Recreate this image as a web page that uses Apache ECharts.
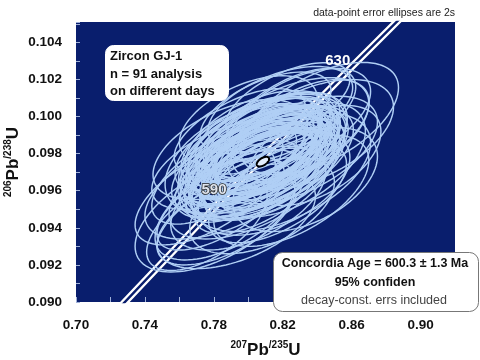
<!DOCTYPE html>
<html><head><meta charset="utf-8">
<script src="https://cdn.jsdelivr.net/npm/echarts@6/dist/echarts.min.js"></script>
<style>html,body{margin:0;padding:0;background:#fff}#c{width:480px;height:360px}</style>
</head><body><div id="c"></div>
<script>
// Tick labels
const xTickLabels = ['0.70','0.74','0.78','0.82','0.86','0.90'];
const yTickLabels = ['0.090','0.092','0.094','0.096','0.098','0.100','0.102','0.104'];

// Concordia curve points (age in Ma, 207Pb/235U, 206Pb/238U)
const concAge = [550, 590, 600, 610, 630, 650];
const concX = [0.718871, 0.787937, 0.805630, 0.823501, 0.859777, 0.896770];
const concY = [0.089066, 0.095843, 0.097544, 0.099248, 0.102664, 0.106090];
const ageLabels = ['590', '630'];
const ageLabelX = [0.787937, 0.859777];
const ageLabelY = [0.095843, 0.102664];

// Data-point error ellipses (2s): centre, half-widths, error correlation
const ellX = [0.8070,0.8100,0.8040,0.8130,0.8010,0.8090,0.8150,0.8060,0.8110,0.7990,
              0.8080,0.8120,0.8030,0.8170,0.8050,0.8095,0.8140,0.8000,0.8075,0.8105,
              0.8020,0.8160,0.8065,0.8115,0.8045,0.8085,0.8135,0.7980,0.8055,0.8125,
              0.8035,0.8180,0.8090,0.8010,0.8145,0.8060,0.8100,0.8025,0.8110,0.8070,
              0.8155,0.8040,0.8085,0.8120,0.7995,0.8065,0.8135,0.8050,0.8095,0.8175,
              0.8015,0.8105,0.8080,0.8140,0.8030,
              0.8413,0.8360,0.8244,0.7808,0.7895,0.7750,0.7895,0.7953,0.8302,0.8244,
              0.8186,0.8330,0.8250,0.7870,0.7930,0.7820,0.7860,0.8000,0.8080,0.8170,
              0.8000,0.8100,0.8280,0.7900,0.8200,0.7950,0.8380,0.7840,0.8050,0.8150,
              0.7970,0.8230,0.8300,0.7760,0.8020,0.8190];
const ellY = [0.09780,0.09800,0.09760,0.09820,0.09740,0.09850,0.09760,0.09700,0.09880,0.09790,
              0.09720,0.09740,0.09830,0.09840,0.09800,0.09690,0.09900,0.09700,0.09870,0.09770,
              0.09860,0.09720,0.09810,0.09820,0.09730,0.09760,0.09780,0.09750,0.09900,0.09690,
              0.09790,0.09800,0.09740,0.09820,0.09860,0.09770,0.09710,0.09720,0.09840,0.09830,
              0.09790,0.09680,0.09890,0.09760,0.09820,0.09740,0.09710,0.09850,0.09800,0.09750,
              0.09770,0.09870,0.09700,0.09830,0.09750,
              0.09989,0.09903,0.09768,0.09470,0.09524,0.09578,0.09822,0.09768,0.09930,0.10010,
              0.10040,0.09660,0.09600,0.09450,0.09440,0.09680,0.09740,0.09560,0.09520,0.09590,
              0.09980,0.10020,0.09820,0.09640,0.09900,0.09920,0.09790,0.09530,0.09600,0.09640,
              0.09650,0.10080,0.10000,0.09420,0.09640,0.09700];
const ellSX = [0.0380,0.0420,0.0350,0.0400,0.0360,0.0330,0.0410,0.0390,0.0370,0.0340,
               0.0450,0.0300,0.0380,0.0360,0.0280,0.0420,0.0390,0.0400,0.0440,0.0320,
               0.0410,0.0350,0.0470,0.0310,0.0330,0.0480,0.0370,0.0390,0.0360,0.0380,
               0.0430,0.0400,0.0290,0.0370,0.0430,0.0400,0.0360,0.0450,0.0460,0.0340,
               0.0330,0.0380,0.0390,0.0490,0.0420,0.0310,0.0400,0.0440,0.0350,0.0380,
               0.0460,0.0320,0.0350,0.0360,0.0300,
               0.0459,0.0483,0.0436,0.0465,0.0436,0.0407,0.0448,0.0436,0.0400,0.0380,
               0.0420,0.0420,0.0450,0.0400,0.0460,0.0380,0.0420,0.0450,0.0420,0.0400,
               0.0400,0.0380,0.0470,0.0500,0.0500,0.0380,0.0390,0.0370,0.0360,0.0440,
               0.0330,0.0360,0.0410,0.0350,0.0480,0.0520];
const ellSY = [0.00230,0.00250,0.00210,0.00240,0.00220,0.00200,0.00260,0.00240,0.00220,0.00200,
               0.00280,0.00180,0.00230,0.00220,0.00170,0.00250,0.00230,0.00250,0.00270,0.00190,
               0.00240,0.00220,0.00290,0.00190,0.00210,0.00300,0.00230,0.00230,0.00210,0.00240,
               0.00260,0.00250,0.00180,0.00220,0.00270,0.00260,0.00230,0.00270,0.00280,0.00200,
               0.00210,0.00240,0.00240,0.00300,0.00250,0.00190,0.00260,0.00260,0.00220,0.00240,
               0.00290,0.00200,0.00210,0.00230,0.00190,
               0.00303,0.00297,0.00308,0.00308,0.00297,0.00270,0.00270,0.00297,0.00270,0.00250,
               0.00230,0.00280,0.00300,0.00250,0.00260,0.00260,0.00240,0.00280,0.00260,0.00270,
               0.00240,0.00220,0.00290,0.00300,0.00310,0.00230,0.00270,0.00250,0.00230,0.00280,
               0.00220,0.00210,0.00260,0.00250,0.00300,0.00320];
const ellRho = [0.60,0.55,0.65,0.50,0.62,0.58,0.48,0.66,0.52,0.60,
                0.55,0.70,0.45,0.57,0.63,0.50,0.60,0.58,0.46,0.68,
                0.54,0.62,0.52,0.56,0.70,0.58,0.44,0.60,0.50,0.64,
                0.57,0.53,0.59,0.66,0.49,0.72,0.55,0.61,0.47,0.65,
                0.58,0.52,0.60,0.56,0.50,0.67,0.54,0.58,0.45,0.62,
                0.60,0.55,0.50,0.66,0.58,
                0.55,0.50,0.50,0.55,0.60,0.60,0.50,0.45,0.55,0.60,
                0.50,0.45,0.55,0.60,0.50,0.62,0.55,0.52,0.48,0.58,
                0.50,0.55,0.52,0.58,0.55,0.60,0.48,0.65,0.60,0.50,
                0.62,0.58,0.52,0.60,0.55,0.50];

// Concordia age ellipse
const ageEllX = [0.8085], ageEllY = [0.09757], ageEllSX = [0.0036], ageEllSY = [0.00026], ageEllRho = [0.55];

const NAVY = '#091e6d';
const FONT = '"Liberation Sans", Arial, sans-serif';

function ellipsePoints(api, cx, cy, a, b, r) {
  const s = Math.sqrt(1 - r * r), pts = [];
  for (let k = 0; k < 96; k++) {
    const t = k / 96 * 2 * Math.PI;
    pts.push(api.coord([cx + a * Math.cos(t), cy + b * (r * Math.cos(t) + s * Math.sin(t))]));
  }
  return pts;
}

const chart = echarts.init(document.getElementById('c'), null, {renderer: 'canvas'});
chart.setOption({
  animation: false,
  backgroundColor: '#ffffff',
  grid: {left: 76, right: 25, top: 22, bottom: 58, containLabel: false, outerBoundsMode: 'none',
         show: true, backgroundColor: NAVY, borderWidth: 0},
  xAxis: {
    type: 'value', min: 0.70, max: 0.92, interval: 0.02,
    axisLine: {show: false},
    splitLine: {show: false},
    axisTick: {show: true, inside: true, length: 5, lineStyle: {color: '#9fb0d8', width: 1}},
    axisLabel: {margin: 16, color: '#111', fontFamily: FONT, fontWeight: 'bold', fontSize: 13.5,
      formatter: v => { const s = v.toFixed(2); return xTickLabels.includes(s) ? s : ''; }},
    name: '{s|207}{b|Pb}{s|/235}{b|U}', nameLocation: 'middle', nameGap: 38, nameMoveOverlap: false,
    nameTextStyle: {rich: {
      b: {fontFamily: FONT, fontWeight: 'bold', fontSize: 17, color: '#111', lineHeight: 20},
      s: {fontFamily: FONT, fontWeight: 'bold', fontSize: 10, color: '#111', verticalAlign: 'top', lineHeight: 20}
    }}
  },
  yAxis: {
    type: 'value', min: 0.090, max: 0.1051, interval: 0.001,
    axisLine: {show: false},
    splitLine: {show: false},
    axisTick: {show: true, inside: true, length: 4, lineStyle: {color: '#9fb0d8', width: 1}},
    axisLabel: {margin: 14, color: '#111', fontFamily: FONT, fontWeight: 'bold', fontSize: 13.5,
      formatter: v => { const s = v.toFixed(3); return yTickLabels.includes(s) ? s : ''; }},
    name: '{s|206}{b|Pb}{s|/238}{b|U}', nameLocation: 'middle', nameGap: 53, nameRotate: 90, nameMoveOverlap: false,
    nameTextStyle: {rich: {
      b: {fontFamily: FONT, fontWeight: 'bold', fontSize: 17, color: '#111', lineHeight: 20},
      s: {fontFamily: FONT, fontWeight: 'bold', fontSize: 10, color: '#111', verticalAlign: 'top', lineHeight: 20}
    }}
  },
  series: [
    {type: 'line', z: 2, clip: true, symbol: 'none', silent: true,
     data: concX.map((x, i) => [x, concY[i]]),
     lineStyle: {color: '#ffffff', width: 7}},
    {type: 'line', z: 3, clip: true, symbol: 'none', silent: true,
     data: concX.map((x, i) => [x, concY[i]]),
     lineStyle: {color: NAVY, width: 2.4}},
    {type: 'custom', z: 4, clip: true, silent: true,
     data: ellX.map((x, i) => [x, ellY[i], ellSX[i], ellSY[i], ellRho[i]]),
     encode: {x: 0, y: 1},
     renderItem: (params, api) => ({
       type: 'polygon',
       shape: {points: ellipsePoints(api, api.value(0), api.value(1), api.value(2), api.value(3), api.value(4))},
       style: {fill: 'none', stroke: '#b0cff5', lineWidth: 1.45}
     })},
    {type: 'custom', z: 5, clip: true, silent: true,
     data: ageEllX.map((x, i) => [x, ageEllY[i], ageEllSX[i], ageEllSY[i], ageEllRho[i]]),
     encode: {x: 0, y: 1},
     renderItem: (params, api) => ({
       type: 'polygon',
       shape: {points: ellipsePoints(api, api.value(0), api.value(1), api.value(2), api.value(3), api.value(4))},
       style: {fill: '#e4eefc', stroke: '#000000', lineWidth: 2}
     })},
    {type: 'scatter', z: 6, symbolSize: 0, silent: true, itemStyle: {opacity: 1},
     data: ageLabelX.map((x, i) => ({value: [x, ageLabelY[i]], name: ageLabels[i],
       label: i === 0
         ? {show: true, position: 'left', distance: 1, offset: [0, -4], formatter: '{b}',
            fontFamily: FONT, fontWeight: 'bold', fontSize: 15, color: '#dfe4ec',
            textBorderColor: '#222', textBorderWidth: 1.5}
         : {show: true, position: 'left', distance: 1, offset: [0, -6], formatter: '{b}',
            fontFamily: FONT, fontWeight: 'bold', fontSize: 15, color: '#ffffff'}}))}
  ],
  graphic: [
    {type: 'text', right: 25, top: 8, z: 10,
     style: {text: 'data-point error ellipses are 2s', fontFamily: FONT, fontSize: 10.5, fill: '#222'}},
    {type: 'rect', left: 105, top: 45, z: 10,
     shape: {width: 123, height: 55, r: 8}, style: {fill: '#ffffff', stroke: '#ffffff'}},
    {type: 'text', left: 110, top: 48, z: 11,
     style: {text: 'Zircon GJ-1\nn = 91 analysis\non different days', fontFamily: FONT, fontWeight: 'bold',
       fontSize: 13, lineHeight: 17.5, fill: '#111'}},
    {type: 'rect', left: 273, top: 252, z: 10,
     shape: {width: 205, height: 59, r: 9}, style: {fill: '#ffffff', stroke: '#777', lineWidth: 1}},
    {type: 'text', x: 375, y: 264, z: 11,
     style: {text: 'Concordia Age = 600.3 ± 1.3 Ma', align: 'center', verticalAlign: 'middle', textAlign: 'center', textVerticalAlign: 'middle', fontFamily: FONT, fontWeight: 'bold', fontSize: 12.5, fill: '#111'}},
    {type: 'text', x: 375, y: 283, z: 11,
     style: {text: '95% confiden', align: 'center', verticalAlign: 'middle', textAlign: 'center', textVerticalAlign: 'middle', fontFamily: FONT, fontWeight: 'bold', fontSize: 12.5, fill: '#111'}},
    {type: 'text', x: 374, y: 301, z: 11,
     style: {text: 'decay-const. errs included', align: 'center', verticalAlign: 'middle', textAlign: 'center', textVerticalAlign: 'middle', fontFamily: FONT, fontSize: 12.5, fill: '#444'}}
  ]
});
</script></body></html>
